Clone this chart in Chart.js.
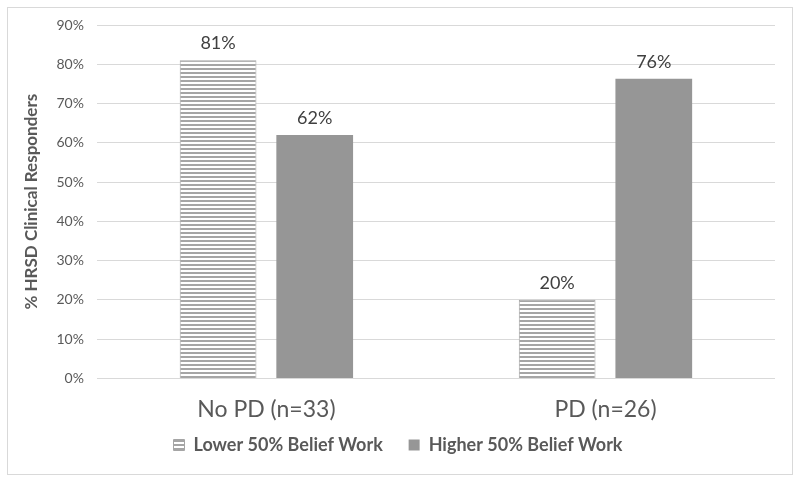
<!DOCTYPE html>
<html>
<head>
<meta charset="utf-8">
<script src="https://cdn.jsdelivr.net/npm/chart.js@4"></script>
<style>
  html, body { margin:0; padding:0; background:#fff; }
  #wrap { width:800px; height:483px; }
</style>
</head>
<body>
<div id="wrap"><canvas id="c" width="800" height="483"></canvas></div>
<script>
// data
const groups = ['No PD (n=33)', 'PD (n=26)'];
const lowerBelief = [81, 20];
const higherBelief = [62, 76.3];
const seriesNames = ['Lower 50% Belief Work', 'Higher 50% Belief Work'];
const labelText = [['81%', '20%'], ['62%', '76%']];

const FONT = 'Lato, "Open Sans", sans-serif';
const GREY = '#a5a5a5';
const TEXT = '#595959';

// horizontal stripe fill for the "lower" series
function stripes(){
  const p = document.createElement('canvas');
  p.width = 4; p.height = 4;
  const g = p.getContext('2d');
  g.fillStyle = '#fff';
  g.fillRect(0,0,4,4);
  g.fillStyle = GREY;
  g.fillRect(0,0,4,2);
  return document.getElementById('c').getContext('2d').createPattern(p, 'repeat');
}

const frame = {
  id:'frame',
  beforeDraw(chart){
    const ctx = chart.ctx;
    ctx.save();
    ctx.fillStyle = '#fff';
    ctx.fillRect(0,0,chart.width,chart.height);
    ctx.strokeStyle = '#d9d9d9';
    ctx.lineWidth = 1;
    ctx.strokeRect(7.5, 7.5, 785, 467);
    ctx.restore();
  }
};

const valueLabels = {
  id:'valueLabels',
  afterDatasetsDraw(chart){
    const ctx = chart.ctx;
    ctx.save();
    ctx.font = '18px ' + FONT;
    ctx.fillStyle = '#404040';
    ctx.textAlign = 'center';
    ctx.textBaseline = 'bottom';
    chart.data.datasets.forEach((ds, i) => {
      chart.getDatasetMeta(i).data.forEach((el, j) => {
        ctx.fillText(labelText[i][j], el.x, el.y - 8);
      });
    });
    ctx.restore();
  }
};

new Chart(document.getElementById('c'), {
  type:'bar',
  data:{
    labels: groups,
    datasets:[
      { label: seriesNames[0], data: lowerBelief, backgroundColor: stripes(), borderColor: GREY, borderWidth: 1 },
      { label: seriesNames[1], data: higherBelief, backgroundColor: '#969696', borderWidth: 0 }
    ]
  },
  options:{
    responsive:false,
    animation:false,
    layout:{ padding:{ left:21, right:25, top:25, bottom:19 } },
    datasets:{ bar:{ categoryPercentage:0.57, barPercentage:0.794 } },
    plugins:{
      tooltip:{ enabled:false },
      legend:{
        position:'bottom',
        labels:{
          boxWidth:11, boxHeight:11, padding:4,
          color: TEXT,
          font:{ family: FONT, size:18, weight:'bold' },
          // widen the gap between the two entries without growing the legend height
          generateLabels(chart){
            const items = Chart.defaults.plugins.legend.labels.generateLabels(chart);
            items.forEach((it, i) => { if(i < items.length - 1) it.text += '     '; });
            return items;
          }
        }
      }
    },
    scales:{
      x:{
        grid:{ display:false },
        border:{ display:false },
        ticks:{ color: TEXT, padding:9, font:{ family: FONT, size:23 } }
      },
      y:{
        min:0, max:90,
        grid:{ color:'#d9d9d9', drawTicks:false },
        border:{ display:false },
        ticks:{ stepSize:10, padding:13, color: TEXT, font:{ family: FONT, size:14 }, callback: v => v + '%' },
        title:{ display:true, text:'% HRSD Clinical Responders', color: TEXT, padding:{ top:0, bottom:2 }, font:{ family: FONT, size:17, weight:'bold' } }
      }
    }
  },
  plugins:[frame, valueLabels]
});
</script>
</body>
</html>
